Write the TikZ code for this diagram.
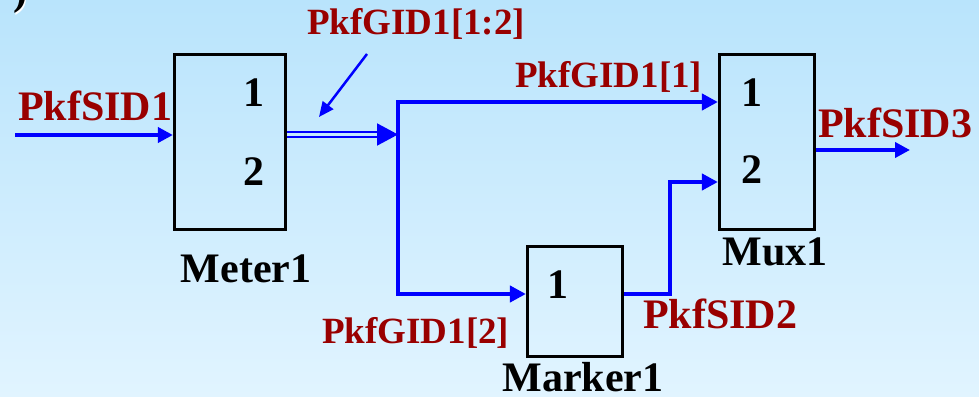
\documentclass[tikz,border=0pt]{standalone}
\usepackage{fontspec}
\setmainfont{Liberation Serif}
\usetikzlibrary{arrows.meta}
\definecolor{bgtop}{RGB}{185,228,252}
\definecolor{bgbot}{RGB}{225,244,255}
\definecolor{bgmid}{RGB}{198,234,253}
\definecolor{lbl}{RGB}{153,0,0}
\definecolor{wire}{RGB}{0,0,255}
\begin{document}
\begin{tikzpicture}[x=1pt,y=-1pt,
 blk/.style={draw=black, line width=3.2pt, inner sep=0pt},
 num/.style={font=\fontsize{42}{42}\selectfont\bfseries, inner sep=0pt},
 blkname/.style={font=\fontsize{42}{42}\selectfont\bfseries, inner sep=0pt, anchor=base},
 sig/.style={font=\fontsize{42}{42}\selectfont\bfseries, text=lbl, inner sep=0pt, anchor=base west},
 gsig/.style={font=\fontsize{37}{37}\selectfont\bfseries, text=lbl, inner sep=0pt, anchor=base west},
 wireline/.style={draw=wire, line width=4pt, line join=miter},
 tip/.style={-{Triangle[length=15pt,width=15pt]}},
 bigtip/.style={-{Triangle[length=16pt,width=16pt]}},
]
\shade[top color=bgtop, bottom color=bgbot] (0,0) rectangle (979,396);
\useasboundingbox (0,0) rectangle (979,396);

% partial glyph at top-left
\node[font=\fontsize{42}{42}\selectfont\bfseries, text=white, inner sep=0pt, anchor=base west] (parensh) at (14.5,6.5) {)};
\node[font=\fontsize{42}{42}\selectfont\bfseries, inner sep=0pt, anchor=base west] (paren) at (13,5) {)};

% blocks
\node[blk, minimum width=111pt, minimum height=175pt] (meter) at (230,142) {};
\node[blk, minimum width=95pt, minimum height=175pt] (mux) at (767,142) {};
\node[blk, minimum width=95pt, minimum height=110pt] (marker) at (575,301.5) {};

% port numbers
\node[num] (m1) at (254,93) {1};
\node[num] (m2) at (254,172) {2};
\node[num] (x1) at (752,93) {1};
\node[num] (x2) at (752,170) {2};
\node[num] (k1) at (558,285) {1};

% block names
\node[blkname] (meterlbl) at (246,282) {Meter1};
\node[blkname] (muxlbl) at (775,265) {Mux1};
\node[blkname] (markerlbl) at (583,391) {Marker1};

% signal labels
\node[sig] (s1) at (18,120) {PkfSID1};
\node[gsig] (g12) at (307,35) {PkfGID1[1:2]};
\node[gsig] (g1) at (515,87) {PkfGID1[1]};
\node[gsig] (g2) at (322,343) {PkfGID1[2]};
\node[sig] (s2) at (643,328) {PkfSID2};
\node[sig] (s3) at (818,137) {PkfSID3};

% helper coordinates
\coordinate (src) at (15,135);
\coordinate (yi) at (0,135);
\coordinate (junc) at (398,134.5);
\coordinate (jtop) at (398,102);
\coordinate (jbot) at (398,294);
\coordinate (yt) at (0,102);
\coordinate (yb) at (0,294);
\coordinate (y2) at (0,182);
\coordinate (yo) at (0,150);
\coordinate (bend) at (670,0);
\coordinate (sink) at (910,150);
\coordinate (ptail) at (367,54);
\coordinate (phead) at (319,117);

% wires
\draw[wireline, tip] (src) -- (meter.west |- yi);
\draw[wire, line width=2pt, double=bgmid, double distance=3pt, -{Triangle[length=21pt,width=22pt]}] (meter.east |- junc) -- (junc);
\draw[wireline, bigtip] (junc) -- (jtop) -- (mux.west |- yt);
\draw[wireline, bigtip] (junc) -- (jbot) -- (marker.west |- yb);
\draw[wireline, bigtip] (marker.east |- yb) -| (bend |- y2) -- (mux.west |- y2);
\draw[wireline, tip] (mux.east |- yo) -- (sink);
\draw[wire, line width=2.5pt, -{Triangle[length=15pt,width=13pt]}] (ptail) -- (phead);
\end{tikzpicture}
\end{document}
